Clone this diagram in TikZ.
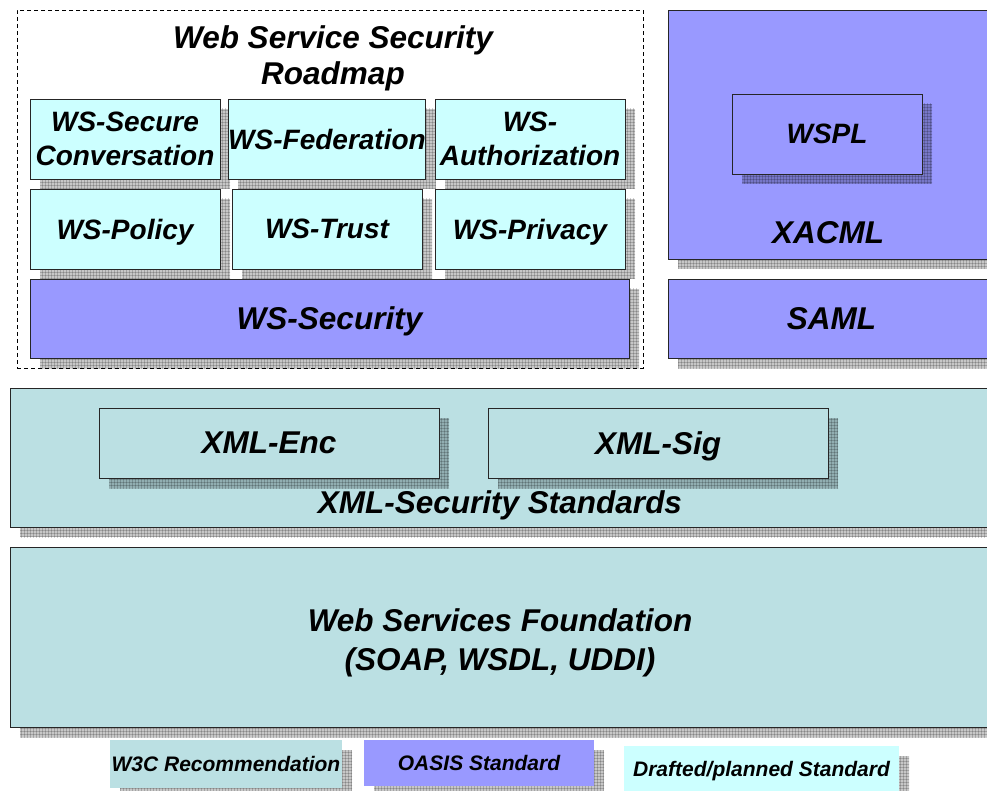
\documentclass[tikz,border=0pt]{standalone}
\usepackage{fontspec}
\setmainfont{Liberation Sans}
\usetikzlibrary{shadows,patterns}

\definecolor{wcteal}{RGB}{187,224,227}
\definecolor{oasisblue}{RGB}{153,153,255}
\definecolor{draftcyan}{RGB}{204,255,255}

\begin{document}
\begin{tikzpicture}[
        x=1pt, y=-1pt,
        hatch/.style={
            general shadow={shadow xshift=10pt, shadow yshift=-10pt, fill=black, opacity=0.22},
            general shadow={shadow xshift=10pt, shadow yshift=-10pt, pattern=grid, pattern color=black, opacity=0.18}},
        box/.style={draw=black!85, line width=0.9pt, inner sep=0pt, align=center, text depth=0pt, hatch},
        std/.style={box, fill=draftcyan, minimum width=190pt, minimum height=80pt,
            font=\fontsize{28}{34}\selectfont\bfseries\itshape},
        big/.style={text depth=0pt, font=\fontsize{31.5}{38}\selectfont\bfseries\itshape},
        key/.style={inner sep=0pt, text depth=0pt, hatch, font=\fontsize{21}{24}\selectfont\bfseries\itshape}
    ]

    % ---------- 画布 ----------
    \useasboundingbox (0,0) rectangle (987,791);

    % ---------- Roadmap 虚线框 ----------
    \node[draw, dash pattern=on 4pt off 3pt, line width=0.9pt,
        minimum width=626pt, minimum height=358pt] (roadmap) at (330,189) {};
    \node[big, align=center, font=\fontsize{31.5}{36}\selectfont\bfseries\itshape]
        (roadtitle) at (333,55) {Web Service Security\\Roadmap};

    % 第一行
    \node[std, text depth=-3pt] (secconv) at (125,139) {WS-Secure\\Conversation};
    \node[std] (federation) at (327,139) {WS-Federation};
    \node[std, text depth=-3pt] (authz)   at (530,139) {WS-\\Authorization};
    % 第二行
    \node[std] (policy)  at (125,229) {WS-Policy};
    \node[std] (trust)   at (327,229) {WS-Trust};
    \node[std] (privacy) at (530,229) {WS-Privacy};

    \node[box, big, fill=oasisblue, minimum width=599pt, minimum height=79pt]
        (wssec) at (329.5,318.5) {WS-Security};

    % ---------- OASIS 右侧 ----------
    \node[box, fill=oasisblue, minimum width=327pt, minimum height=249pt]
        (xacml) at (831.5,134.5) {};
    \node[std, fill=oasisblue] (wspl) at (827,134) {WSPL};
    \node[big] (xacmllbl) at (828,233) {XACML};

    \node[box, big, fill=oasisblue, minimum width=327pt, minimum height=79pt]
        (saml) at (831.5,318.5) {SAML};

    % ---------- XML-Security ----------
    \node[box, fill=wcteal, minimum width=985pt, minimum height=139pt]
        (xmlsec) at (502.5,457.5) {};
    \node[box, big, fill=wcteal, minimum width=340pt, minimum height=70pt]
        (xmlenc) at (269,443) {XML-Enc};
    \node[box, big, fill=wcteal, minimum width=340pt, minimum height=70pt]
        (xmlsig) at (658,443) {XML-Sig};
    \node[big] (xmlseclbl) at (500,502) {XML-Security Standards};

    % ---------- Foundation ----------
    \node[box, fill=wcteal, minimum width=985pt, minimum height=180pt]
        (foundation) at (502.5,637) {};
    \node[big, align=center, font=\fontsize{31.5}{39}\selectfont\bfseries\itshape]
        (foundlbl) at (500,640) {Web Services Foundation\\(SOAP, WSDL, UDDI)};

    % ---------- 图例 ----------
    \node[key, fill=wcteal, minimum width=232pt, minimum height=48pt]
        (keyw3c) at (226,764) {W3C Recommendation};
    \node[key, fill=oasisblue, minimum width=230pt, minimum height=46pt]
        (keyoasis) at (479,763) {OASIS Standard};
    \node[key, fill=draftcyan, minimum width=275pt, minimum height=45pt]
        (keydraft) at (761.5,768.5) {Drafted/planned Standard};

\end{tikzpicture}
\end{document}
